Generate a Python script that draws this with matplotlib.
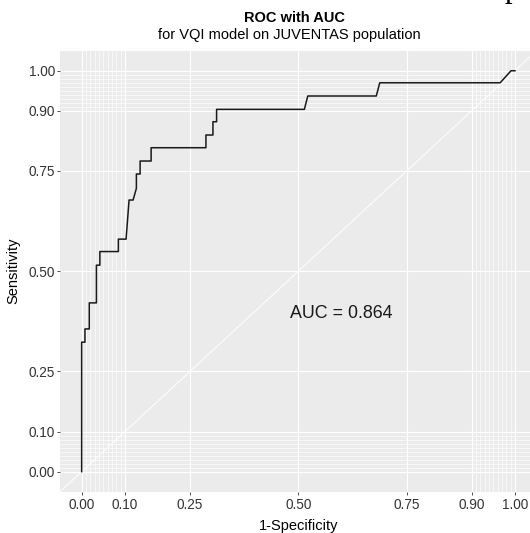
import matplotlib
matplotlib.use("Agg")
import matplotlib.pyplot as plt
import numpy as np

# ROC curve (1-specificity, sensitivity)
fpr = [0.0, 0.0, 0.0076, 0.0076, 0.0176, 0.0176, 0.034, 0.034, 0.042, 0.042,
       0.0847, 0.0847, 0.1025, 0.1094, 0.1187, 0.1263, 0.1263, 0.1349, 0.1349,
       0.1603, 0.1603, 0.2868, 0.2868, 0.303, 0.303, 0.3114, 0.3114, 0.514,
       0.5219, 0.680, 0.688, 0.966, 0.991, 1.0]
tpr = [0.0, 0.323, 0.323, 0.356, 0.356, 0.421, 0.421, 0.515, 0.515, 0.549,
       0.549, 0.580, 0.580, 0.6775, 0.6775, 0.7067, 0.7424, 0.7424, 0.7748,
       0.7748, 0.808, 0.808, 0.8397, 0.8397, 0.8728, 0.8728, 0.9037, 0.9037,
       0.937, 0.937, 0.970, 0.970, 1.0, 1.0]

major_breaks = [0, 0.1, 0.25, 0.5, 0.75, 0.9, 1]
minor_breaks = [round(v, 2) for v in list(np.arange(0, 0.101, 0.01)) + list(np.arange(0.9, 1.001, 0.01))]
tick_labels = ["0.00", "0.10", "0.25", "0.50", "0.75", "0.90", "1.00"]

auc_text = "AUC = 0.864"
title = "ROC with AUC"
subtitle = "for VQI model on JUVENTAS population"

plt.rcParams['font.family'] = ['Liberation Sans', 'DejaVu Sans']

W, H = 530, 533
fig = plt.figure(figsize=(W / 100, H / 100), dpi=100)
# panel runs off the right edge, like the cropped reference
ax = fig.add_axes([60 / W, (H - 491.7) / H, 476.6 / W, 441 / H])
ax.set_facecolor('#EBEBEB')
for s in ax.spines.values():
    s.set_visible(False)

ax.set_xlim(-0.05, 1.05)
ax.set_ylim(-0.05, 1.05)
ax.set_xticks(major_breaks)
ax.set_yticks(major_breaks)
ax.set_xticklabels(tick_labels)
ax.set_yticklabels(tick_labels)
ax.set_xticks(minor_breaks, minor=True)
ax.set_yticks(minor_breaks, minor=True)
ax.tick_params(which='major', length=2.0, width=0.6, color='#333333',
               labelsize=9.8, labelcolor='#333333')
ax.tick_params(axis='x', which='major', pad=2.4)
ax.tick_params(axis='y', which='major', pad=1.6)
ax.tick_params(which='minor', length=0)

ax.set_axisbelow(True)
ax.grid(which='major', color='white', linewidth=0.85)
ax.grid(which='minor', color='white', linewidth=0.45)

ax.axline((0, 0), (1, 1), color='white', linewidth=0.7, zorder=1.5)
ax.plot(fpr, tpr, color='#1a1a1a', linewidth=1.1, zorder=3)

ax.text(0.6, 0.3825, auc_text, ha='center', va='baseline', fontsize=12.9, color='#1a1a1a')

ax.set_xlabel("1-Specificity", fontsize=10.5, labelpad=5)
fig.text(13 / W, 1 - 271 / H, "Sensitivity", rotation=90, ha='center', va='center', fontsize=10.5)

fig.text(294.7 / W, 1 - 22.3 / H, title, ha='center', va='baseline', fontsize=10.5, fontweight='bold')
fig.text(289.3 / W, 1 - 39.5 / H, subtitle, ha='center', va='baseline', fontsize=10.5)

# only the descender of a cropped glyph shows at the top-right edge
fig.text(512 / W, 1 + 2.5 / H, "p", ha='center', va='baseline', fontsize=22, family='Liberation Serif')

fig.savefig("out.png", dpi=100)
